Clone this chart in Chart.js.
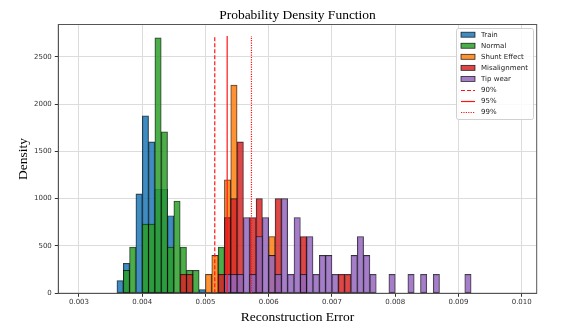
<!DOCTYPE html>
<html>
<head>
<meta charset="utf-8">
<script src="https://cdn.jsdelivr.net/npm/chart.js@4.4.0/dist/chart.umd.min.js"></script>
<style>
  html, body { margin: 0; padding: 0; background: #fff; }
  canvas { display: block; }
</style>
</head>
<body>
<canvas id="pdfChart" width="562" height="334"></canvas>
<script>
// Histogram bins are 0.0001 wide, listed by their left edge
const binWidth = 0.0001;

const trainBins = [0.0036, 0.0037, 0.0039, 0.0040, 0.0041, 0.0042, 0.0043, 0.0044, 0.0049];
const trainDensity = [135, 318, 1050, 1875, 1600, 1100, 1100, 820, 40];

const normalBins = [0.0037, 0.0038, 0.0040, 0.0041, 0.0042, 0.0043, 0.0044, 0.0045, 0.0046, 0.0047, 0.0048, 0.0052];
const normalDensity = [244, 488, 732, 732, 2700, 1707, 488, 976, 488, 244, 244, 488];

const shuntBins = [0.0050, 0.0051, 0.0053, 0.0054, 0.0060];
const shuntDensity = [200, 400, 1200, 2200, 600];

const misalignBins = [0.0046, 0.0047, 0.0052, 0.0053, 0.0054, 0.0055, 0.0057, 0.0058, 0.0061, 0.0065, 0.0071, 0.0072];
const misalignDensity = [200, 200, 200, 800, 1000, 1600, 800, 1000, 1000, 600, 200, 200];

const tipBins = [0.0053, 0.0054, 0.0055, 0.0056, 0.0057, 0.0058, 0.0059, 0.0060, 0.0061, 0.0062, 0.0063, 0.0064, 0.0065,
  0.0066, 0.0067, 0.0068, 0.0069, 0.0070, 0.0073, 0.0074, 0.0075, 0.0076, 0.0079, 0.0082, 0.0084, 0.0086, 0.0091];
const tipDensity = [200, 200, 200, 800, 200, 600, 800, 400, 200, 1000, 200, 800, 200,
  600, 200, 400, 400, 200, 400, 600, 400, 200, 200, 200, 200, 200, 200];

// Threshold lines
const thresholdLabels = ['90%', '95%', '99%'];
const thresholdValues = [0.005147, 0.005343, 0.005727];
const thresholdDash = [[4, 2], [], [1.2, 1.2]];
const thresholdTop = 2720;

const xTicks = [0.003, 0.004, 0.005, 0.006, 0.007, 0.008, 0.009, 0.010];
const yTicks = [0, 500, 1000, 1500, 2000, 2500];

const FONT = '"DejaVu Sans", sans-serif';
const SERIF = '"Liberation Serif", "Times New Roman", serif';
const LINE_RED = 'rgb(255,20,20)';

function barSet(label, bins, values, rgb, order) {
  return {
    type: 'bar',
    label: label,
    data: bins.map((b, i) => ({ x: b + binWidth / 2, y: values[i] })),
    backgroundColor: 'rgba(' + rgb + ',0.85)',
    borderColor: 'rgba(0,0,0,0.8)',
    borderWidth: 0.8,
    borderSkipped: false,
    grouped: false,
    barPercentage: 1,
    categoryPercentage: 1,
    order: order
  };
}

function lineSet(i) {
  return {
    type: 'line',
    label: thresholdLabels[i],
    data: [{ x: thresholdValues[i], y: 0 }, { x: thresholdValues[i], y: thresholdTop }],
    borderColor: LINE_RED,
    borderWidth: 1.2,
    borderDash: thresholdDash[i],
    pointRadius: 0,
    fill: false,
    order: 0
  };
}

const datasets = [
  barSet('Train', trainBins, trainDensity, '31,119,180', 5),
  barSet('Normal', normalBins, normalDensity, '44,160,44', 4),
  barSet('Shunt Effect', shuntBins, shuntDensity, '255,127,14', 3),
  barSet('Misalignment', misalignBins, misalignDensity, '214,39,40', 2),
  barSet('Tip wear', tipBins, tipDensity, '148,103,189', 1),
  lineSet(0), lineSet(1), lineSet(2)
];

// Titles, frame and the legend box (matplotlib style, inside the plot)
const decorations = {
  id: 'decorations',
  afterDraw(chart) {
    const ctx = chart.ctx;
    const a = chart.chartArea;
    ctx.save();

    // frame
    ctx.strokeStyle = '#555';
    ctx.lineWidth = 1;
    ctx.setLineDash([]);
    ctx.strokeRect(a.left, a.top, a.right - a.left, a.bottom - a.top);

    // titles
    const cx = (a.left + a.right) / 2;
    ctx.fillStyle = '#000';
    ctx.font = '13.5px ' + SERIF;
    ctx.textAlign = 'center';
    ctx.textBaseline = 'middle';
    ctx.fillText('Probability Density Function', cx, 15);
    ctx.fillText('Reconstruction Error', cx, 317.5);
    ctx.save();
    ctx.translate(23, (a.top + a.bottom) / 2);
    ctx.rotate(-Math.PI / 2);
    ctx.fillText('Density', 0, 0);
    ctx.restore();

    // legend
    const bx = 456.5, by = 28.5, bw = 77, bh = 91;
    ctx.beginPath();
    ctx.roundRect(bx, by, bw, bh, 2);
    ctx.fillStyle = 'rgba(255,255,255,0.85)';
    ctx.fill();
    ctx.strokeStyle = '#d0d0d0';
    ctx.stroke();

    ctx.font = '7px ' + FONT;
    ctx.textAlign = 'left';
    chart.data.datasets.forEach((ds, i) => {
      const y = 34.7 + i * 11.05;
      if (ds.type === 'bar') {
        ctx.fillStyle = ds.backgroundColor;
        ctx.fillRect(461, y - 2.5, 14, 5);
        ctx.strokeStyle = 'rgba(0,0,0,0.8)';
        ctx.lineWidth = 0.8;
        ctx.setLineDash([]);
        ctx.strokeRect(461, y - 2.5, 14, 5);
      } else {
        const ly = Math.round(y) + 0.5;
        ctx.strokeStyle = ds.borderColor;
        ctx.lineWidth = 1.2;
        ctx.setLineDash(ds.borderDash);
        ctx.beginPath();
        ctx.moveTo(461, ly);
        ctx.lineTo(475, ly);
        ctx.stroke();
        ctx.setLineDash([]);
      }
      ctx.fillStyle = '#222';
      ctx.fillText(ds.label, 481, y + 0.5);
    });
    ctx.restore();
  }
};

new Chart(document.getElementById('pdfChart'), {
  type: 'bar',
  data: { datasets: datasets },
  options: {
    responsive: false,
    animation: false,
    events: [],
    layout: { padding: { left: 0, right: 25.3, top: 24.5, bottom: 0 } },
    plugins: {
      legend: { display: false },
      title: { display: false },
      tooltip: { enabled: false }
    },
    scales: {
      x: {
        type: 'linear',
        offset: false,
        min: 0.002673,
        max: 0.010237,
        afterBuildTicks: s => { s.ticks = xTicks.map(v => ({ value: v })); },
        afterFit: s => { s.height = 40.7; },
        ticks: {
          font: { family: FONT, size: 7 },
          color: '#333',
          padding: 1,
          maxRotation: 0,
          callback: v => v.toFixed(3)
        },
        grid: { offset: false, color: '#dcdcdc', lineWidth: 1, tickLength: 3.5, tickColor: '#333' },
        border: { color: '#555', width: 1 }
      },
      y: {
        min: 0,
        max: 2841,
        afterBuildTicks: s => { s.ticks = yTicks.map(v => ({ value: v })); },
        afterFit: s => { s.width = 58.3; },
        ticks: {
          font: { family: FONT, size: 7 },
          color: '#333',
          padding: 3,
          callback: v => String(v)
        },
        grid: { color: '#dcdcdc', lineWidth: 1, tickLength: 3.5, tickColor: '#333' },
        border: { color: '#555', width: 1 }
      }
    }
  },
  plugins: [decorations]
});
</script>
</body>
</html>
